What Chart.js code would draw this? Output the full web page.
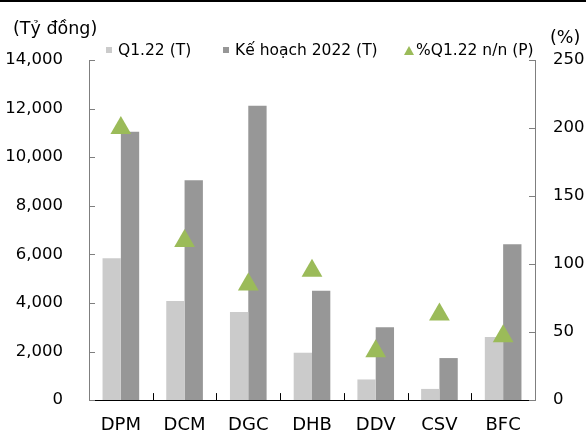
<!DOCTYPE html>
<html><head><meta charset="utf-8">
<script src="https://cdn.jsdelivr.net/npm/chart.js@4.4.0/dist/chart.umd.min.js"></script>
<style>
html,body{margin:0;padding:0;background:#fff;}
#wrap{position:relative;width:586px;height:436px;overflow:hidden;font-family:"DejaVu Sans",sans-serif;color:#000;}
#topline{position:absolute;left:0;top:0;width:586px;height:2px;background:#000;}
#unitL{position:absolute;left:13px;top:17px;font-size:17.5px;line-height:22px;}
#unitR{position:absolute;left:550px;top:26px;font-size:17.5px;line-height:22px;}
#legend{position:absolute;left:0;top:40px;width:586px;height:20px;font-size:15.5px;white-space:nowrap;}
.item{position:absolute;top:0;height:20px;display:flex;align-items:center;}
.sq{width:6px;height:6px;margin-right:6px;}
.tri{width:0;height:0;border-left:5.5px solid transparent;border-right:5.5px solid transparent;margin-right:2px;}
canvas{position:absolute;left:0;top:0;}
</style></head>
<body>
<div id="wrap">
  <canvas id="c" width="586" height="436"></canvas>
  <div id="topline"></div>
  <div id="unitL">(Tỷ đồng)</div>
  <div id="unitR">(%)</div>
  <div id="legend"></div>
</div>
<script>
const categories = ['DPM', 'DCM', 'DGC', 'DHB', 'DDV', 'CSV', 'BFC'];
const q1_22 = [5840, 4080, 3630, 1950, 850, 460, 2600];
const plan2022 = [11050, 9050, 12120, 4500, 3000, 1730, 6420];
const growthPct = [200, 117, 85, 95, 36, 63, 47];
const seriesNames = ['Q1.22 (T)', 'Kế hoạch 2022 (T)', '%Q1.22 n/n (P)'];
const leftMax = 14000, leftStep = 2000;
const rightMax = 250, rightStep = 50;

const FONT = '"DejaVu Sans", sans-serif';
const COL_LIGHT = '#cbcbcb', COL_DARK = '#979797', COL_GREEN = '#9bbb59';
const legendLefts = [106, 223, 404];

const innerTicks = {
  id: 'innerTicks',
  afterDraw(chart) {
    const ctx = chart.ctx, a = chart.chartArea;
    const x = chart.scales.x, y = chart.scales.y, y1 = chart.scales.y1;
    ctx.save();
    ctx.lineWidth = 1;
    ctx.strokeStyle = '#7f7f7f';
    y.ticks.forEach(t => {
      const p = Math.round(y.getPixelForValue(t.value)) + 0.5;
      ctx.beginPath(); ctx.moveTo(a.left, p); ctx.lineTo(a.left + 6, p); ctx.stroke();
    });
    y1.ticks.forEach(t => {
      const p = Math.round(y1.getPixelForValue(t.value)) + 0.5;
      ctx.beginPath(); ctx.moveTo(a.right, p); ctx.lineTo(a.right - 6, p); ctx.stroke();
    });
    ctx.strokeStyle = '#000';
    const n = categories.length;
    for (let i = 1; i < n; i++) {
      const p = Math.round((x.getPixelForValue(i - 1) + x.getPixelForValue(i)) / 2) + 0.5;
      ctx.beginPath(); ctx.moveTo(p, a.bottom); ctx.lineTo(p, a.bottom - 7); ctx.stroke();
    }
    ctx.restore();
  }
};

const chart = new Chart(document.getElementById('c'), {
  type: 'bar',
  data: {
    labels: categories,
    datasets: [
      { label: seriesNames[0], data: q1_22, backgroundColor: COL_LIGHT, yAxisID: 'y', order: 2,
        categoryPercentage: 0.575, barPercentage: 1.0 },
      { label: seriesNames[1], data: plan2022, backgroundColor: COL_DARK, yAxisID: 'y', order: 2,
        categoryPercentage: 0.575, barPercentage: 1.0 },
      { type: 'line', label: seriesNames[2], data: growthPct, yAxisID: 'y1', order: 1,
        showLine: false, pointStyle: 'triangle', pointRadius: 12, pointHoverRadius: 12,
        backgroundColor: COL_GREEN, borderColor: COL_GREEN, pointBorderWidth: 0 }
    ]
  },
  options: {
    responsive: false,
    animation: false,
    events: [],
    layout: { padding: { top: 60, left: 0, right: 0, bottom: 0 } },
    plugins: { legend: { display: false }, tooltip: { enabled: false }, title: { display: false } },
    scales: {
      x: {
        offset: true,
        grid: { display: false, drawTicks: false },
        border: { display: true, color: '#000', width: 1 },
        ticks: { color: '#000', font: { family: FONT, size: 18 }, padding: 14, maxRotation: 0 },
        afterFit(s) { s.height = 30.1; }
      },
      y: {
        position: 'left', min: 0, max: leftMax,
        grid: { display: false, drawTicks: false },
        border: { display: true, color: '#7f7f7f', width: 1 },
        ticks: { stepSize: leftStep, color: '#000', font: { family: FONT, size: 16.5 }, padding: 26,
          callback: v => v.toLocaleString('en-US') },
        afterFit(s) { s.width = 89; }
      },
      y1: {
        position: 'right', min: 0, max: rightMax,
        grid: { display: false, drawTicks: false },
        border: { display: true, color: '#7f7f7f', width: 1 },
        ticks: { stepSize: rightStep, color: '#000', font: { family: FONT, size: 16.5 }, padding: 18 },
        afterFit(s) { s.width = 51; }
      }
    }
  },
  plugins: [innerTicks]
});

// HTML legend built from the library's legend items
const items = chart.options.plugins.legend.labels.generateLabels(chart)
  .sort((a, b) => a.datasetIndex - b.datasetIndex);
const leg = document.getElementById('legend');
items.forEach((it, i) => {
  const d = document.createElement('div');
  d.className = 'item';
  d.style.left = legendLefts[i] + 'px';
  const mk = document.createElement('span');
  if (chart.data.datasets[it.datasetIndex].type === 'line') {
    mk.className = 'tri';
    mk.style.borderBottom = '9px solid ' + it.fillStyle;
  } else {
    mk.className = 'sq';
    mk.style.background = it.fillStyle;
  }
  const t = document.createElement('span');
  t.textContent = it.text;
  d.appendChild(mk); d.appendChild(t);
  leg.appendChild(d);
});
</script>
</body></html>
